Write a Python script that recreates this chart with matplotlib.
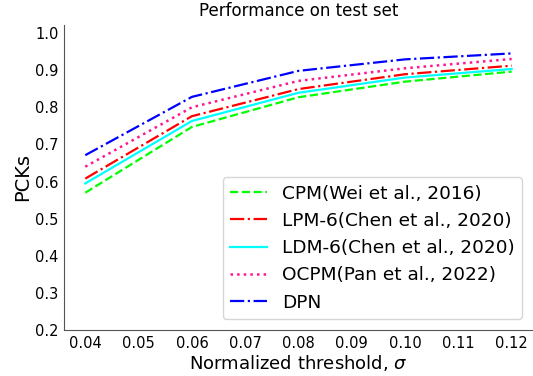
import matplotlib
matplotlib.use("Agg")
import matplotlib.pyplot as plt

umbral = [0.04, 0.06, 0.08, 0.10, 0.12]
cpm = [0.570, 0.747, 0.827, 0.869, 0.896]
lpm6 = [0.608, 0.776, 0.849, 0.889, 0.912]
ldm6 = [0.595, 0.763, 0.839, 0.880, 0.903]
ocpm = [0.640, 0.800, 0.871, 0.905, 0.930]
dpn = [0.671, 0.828, 0.898, 0.929, 0.945]

xticks = [0.04, 0.05, 0.06, 0.07, 0.08, 0.09, 0.10, 0.11, 0.12]
yticks = [0.2, 0.3, 0.4, 0.5, 0.6, 0.7, 0.8, 0.9, 1.0]

fig = plt.figure(figsize=(5.33, 3.76), dpi=100)
ax = fig.add_axes([0.12, 0.122, 0.88, 0.812])

ax.plot(umbral, cpm, "--", color="#00ff00", lw=1.6, label="CPM(Wei et al., 2016)")
ax.plot(umbral, lpm6, "-.", color="red", lw=1.6, label="LPM-6(Chen et al., 2020)")
ax.plot(umbral, ldm6, "-", color="cyan", lw=1.6, label="LDM-6(Chen et al., 2020)")
ax.plot(umbral, ocpm, ":", color="#ff1493", lw=1.8, label="OCPM(Pan et al., 2022)")
ax.plot(umbral, dpn, "-.", color="blue", lw=1.6, label="DPN")

ax.set_xlim(0.036, 0.124)
ax.set_ylim(0.2, 1.022)
ax.set_xticks(xticks)
ax.set_xticklabels([f"{v:.2f}" for v in xticks])
ax.set_yticks(yticks)
ax.set_yticklabels([f"{v:.1f}" for v in yticks])
ax.tick_params(length=0, labelsize=10.5, pad=4)

for s in ["top", "right"]:
    ax.spines[s].set_visible(False)
for s in ["left", "bottom"]:
    ax.spines[s].set_color("#555555")

ax.set_title("Performance on test set", fontsize=12)
ax.set_xlabel("Normalized threshold, $\\sigma$", fontsize=13, labelpad=2)
ax.set_ylabel("PCKs", fontsize=14, labelpad=2)
ax.legend(loc="lower right", fontsize=13.3, handlelength=2.0, borderaxespad=0.6)

plt.savefig("out.png", dpi=100)
